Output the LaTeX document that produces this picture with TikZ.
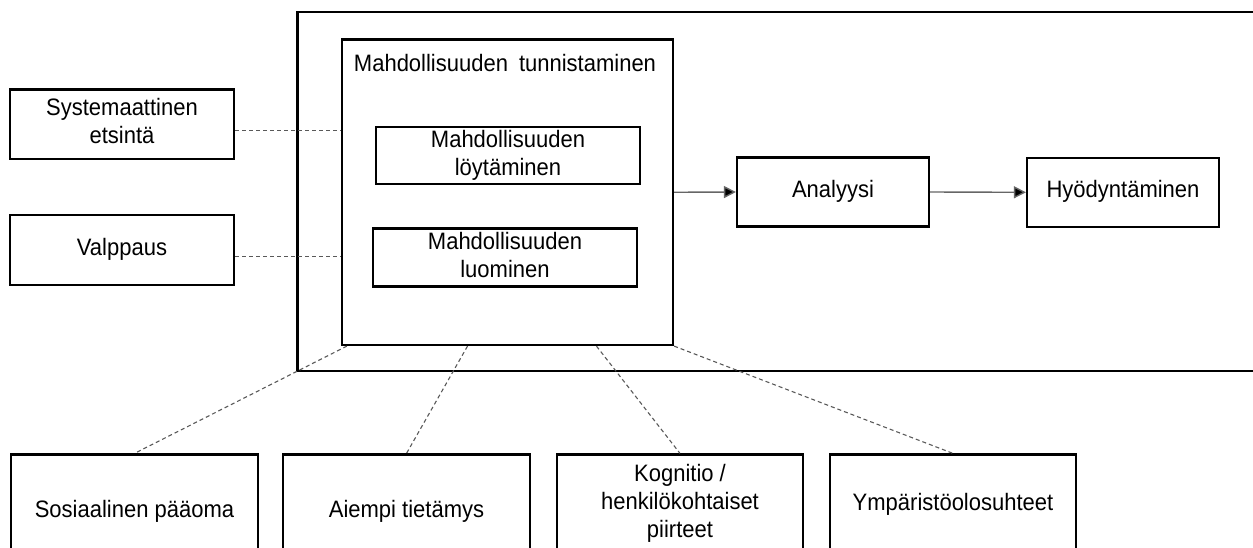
\documentclass[tikz,border=0pt]{standalone}
\usepackage{graphicx}
\usepackage{fontspec}
\setmainfont{Liberation Sans}
\usetikzlibrary{arrows.meta,calc}
% slightly tall lettering, centred lines
\newcommand{\tallbox}[1]{\scalebox{1}[1.08]{\begin{tabular}{@{}c@{}}#1\end{tabular}}}
\begin{document}
\begin{tikzpicture}[x=1pt,y=-1pt,
  box/.style={draw=black,line width=2.2pt,inner sep=0pt,rectangle},
  lbl/.style={font=\fontsize{22}{26}\selectfont,align=center,inner sep=0pt},
  link/.style={draw=black!65,line width=1.1pt,dash pattern=on 4pt off 3pt},
  flow/.style={draw=black!60,line width=1.4pt,-{Triangle[length=12pt,width=12pt,fill=black]}}
]
\useasboundingbox (0,0) rectangle (1253,547);
\clip (0,0) rectangle (1253,547);

% frame around the opportunity process
\node[box,minimum width=992.5pt,minimum height=358.7pt] (outer) at (793.75,191.65) {};

% opportunity recognition block
\node[box,minimum width=331pt,minimum height=305.5pt] (inner) at (507.5,192.25) {};
\node[lbl] (title) at (505,66) {\tallbox{Mahdollisuuden\hspace{0.5em}tunnistaminen}};
\node[box,lbl,minimum width=264pt,minimum height=57pt] (find) at (508,155.5) {\tallbox{Mahdollisuuden\\löytäminen}};
\node[box,lbl,minimum width=264pt,minimum height=58pt] (create) at (505,257.5) {\tallbox{Mahdollisuuden\\luominen}};

% left-hand inputs
\node[box,lbl,minimum width=224pt,minimum height=69.5pt] (syst) at (122,124.25) {\tallbox{Systemaattinen\\etsintä}};
\node[box,lbl,minimum width=224pt,minimum height=70pt] (valp) at (122,250) {\tallbox{Valppaus}};

% process steps
\node[box,lbl,minimum width=192pt,minimum height=69pt] (ana) at (833,192) {\tallbox{Analyysi}};
\node[box,lbl,minimum width=192pt,minimum height=69pt] (hyo) at (1123,192.3) {\tallbox{Hyödyntäminen}};

% factors below
\node[box,minimum width=247pt,minimum height=145.5pt] (sos) at (134.5,527.25) {};
\node[box,minimum width=247pt,minimum height=145.5pt] (aie) at (406.5,527.25) {};
\node[box,minimum width=246pt,minimum height=145.5pt] (kog) at (680,527.25) {};
\node[box,minimum width=246pt,minimum height=145.5pt] (ymp) at (953,527.25) {};
\node[lbl] (sostxt) at (134.5,512) {\tallbox{Sosiaalinen pääoma}};
\node[lbl] (aietxt) at (406.5,512) {\tallbox{Aiempi tietämys}};
\node[lbl] (kogtxt) at (680,504) {\tallbox{Kognitio /\\henkilökohtaiset\\piirteet}};
\node[lbl] (ymptxt) at (953,505) {\tallbox{Ympäristöolosuhteet}};

% dashed links from the inputs
\coordinate (s1) at ($(syst.east)+(0,6.5)$);
\coordinate (v1) at ($(valp.east)+(0,6.5)$);
\draw[link] (s1) -- (s1 -| inner.west);
\draw[link] (v1) -- (v1 -| inner.west);

% flow arrows
\draw[flow] (inner.east) -- (ana.west);
\draw[flow] (ana.east) -- (hyo.west);

% dashed links to the factors
\draw[link] ($(inner.south west)!0.018!(inner.south east)$) -- (sos.north);
\draw[link] ($(inner.south west)!0.38!(inner.south east)$) -- (aie.north);
\draw[link] ($(inner.south west)!0.767!(inner.south east)$) -- (kog.north);
\draw[link] (inner.south east) -- (ymp.north);
\end{tikzpicture}
\end{document}
